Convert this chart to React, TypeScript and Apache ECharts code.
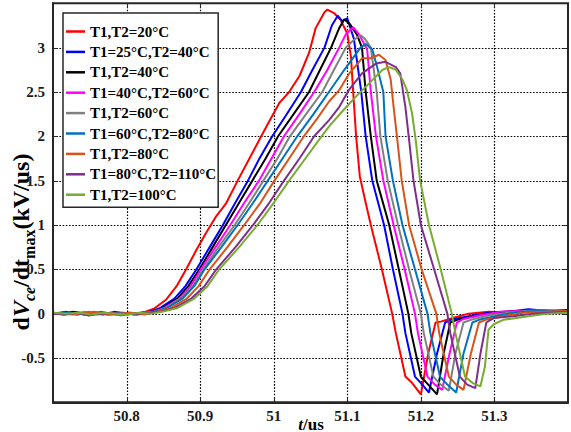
import React, { useEffect, useRef } from 'react';
import * as echarts from 'echarts';

const seriesNames = [
  'T1,T2=20°C',
  'T1=25°C,T2=40°C',
  'T1,T2=40°C',
  'T1=40°C,T2=60°C',
  'T1,T2=60°C',
  'T1=60°C,T2=80°C',
  'T1,T2=80°C',
  'T1=80°C,T2=110°C',
  'T1,T2=100°C',
];

const seriesColors = ['#ff0000', '#0000ff', '#000000', '#ff00ff', '#808080', '#0072bd', '#d95319', '#7e2f8e', '#77ac30'];

const xTicks = { min: 50.7, max: 51.4, step: 0.1 };
const yTicks = { min: -1, max: 3.5, step: 0.5 };
const xGridValues = [50.8, 50.9, 51.0, 51.1, 51.2, 51.3];
const yGridValues = [-0.5, 0, 0.5, 1, 1.5, 2, 2.5, 3];

const red = [
  [50.700, 0.01], [50.715, -0.01], [50.730, 0.02], [50.745, 0.00], [50.760, 0.01], [50.775, -0.01], [50.790, 0.01],
  [50.805, 0.00], [50.815, -0.01], [50.825, 0.02], [50.838, 0.06], [50.854, 0.16], [50.868, 0.31], [50.881, 0.50],
  [50.895, 0.72], [50.908, 0.91], [50.922, 1.10], [50.935, 1.24], [50.951, 1.50], [50.967, 1.75], [50.983, 2.00],
  [50.994, 2.17], [51.008, 2.38], [51.021, 2.50], [51.035, 2.68], [51.048, 2.94], [51.057, 3.22], [51.069, 3.40],
  [51.073, 3.43], [51.082, 3.39], [51.091, 3.31], [51.100, 3.16], [51.105, 2.90], [51.108, 2.50], [51.112, 2.00],
  [51.117, 1.55], [51.125, 1.25], [51.132, 1.00], [51.147, 0.50], [51.161, 0.00], [51.166, -0.22], [51.179, -0.71],
  [51.188, -0.78], [51.200, -0.91], [51.210, -0.45], [51.220, -0.10], [51.227, -0.09], [51.247, -0.04], [51.265, 0.00],
  [51.292, 0.02], [51.319, 0.01], [51.346, 0.04], [51.373, 0.02], [51.400, 0.04],
];

const blue = [
  [50.700, 0.00], [50.718, 0.02], [50.733, -0.01], [50.750, 0.01], [50.768, -0.01], [50.783, 0.02], [50.800, 0.00],
  [50.818, 0.01], [50.831, 0.02], [50.845, 0.06], [50.865, 0.17], [50.880, 0.31], [50.895, 0.50], [50.913, 0.75],
  [50.931, 1.00], [50.947, 1.24], [50.965, 1.50], [50.980, 1.74], [50.998, 2.00], [51.017, 2.24], [51.037, 2.50],
  [51.052, 2.74], [51.069, 3.00], [51.079, 3.25], [51.087, 3.36], [51.093, 3.30], [51.100, 3.33], [51.109, 3.10],
  [51.119, 2.50], [51.125, 2.00], [51.134, 1.50], [51.150, 1.00], [51.162, 0.50], [51.175, 0.00], [51.179, -0.22],
  [51.192, -0.71], [51.202, -0.80], [51.211, -0.89], [51.222, -0.45], [51.233, -0.10], [51.241, -0.07], [51.265, -0.03],
  [51.292, 0.01], [51.319, 0.02], [51.346, 0.05], [51.373, 0.03], [51.400, 0.04],
];

const black = [
  [50.700, 0.01], [50.712, 0.00], [50.728, 0.02], [50.742, -0.01], [50.758, 0.01], [50.772, 0.00], [50.788, -0.01],
  [50.803, 0.01], [50.820, 0.00], [50.834, 0.02], [50.848, 0.06], [50.869, 0.17], [50.884, 0.31], [50.899, 0.50],
  [50.917, 0.75], [50.935, 1.00], [50.953, 1.25], [50.971, 1.50], [50.989, 1.75], [51.006, 2.00], [51.027, 2.25],
  [51.048, 2.50], [51.063, 2.75], [51.078, 3.00], [51.089, 3.22], [51.096, 3.32], [51.104, 3.26], [51.113, 3.15],
  [51.120, 3.00], [51.125, 2.50], [51.132, 2.00], [51.140, 1.50], [51.157, 1.00], [51.170, 0.50], [51.183, 0.00],
  [51.187, -0.22], [51.200, -0.71], [51.210, -0.80], [51.222, -0.91], [51.231, -0.45], [51.240, -0.10], [51.249, -0.07],
  [51.272, -0.03], [51.299, 0.01], [51.326, 0.03], [51.353, 0.02], [51.400, 0.03],
];

const magenta = [
  [50.700, 0.00], [50.716, 0.01], [50.731, -0.01], [50.748, 0.02], [50.763, 0.00], [50.779, -0.01], [50.794, 0.01],
  [50.810, -0.01], [50.824, 0.01], [50.836, 0.02], [50.850, 0.06], [50.872, 0.17], [50.887, 0.31], [50.901, 0.50],
  [50.921, 0.75], [50.941, 1.00], [50.960, 1.25], [50.980, 1.50], [50.997, 1.75], [51.014, 2.00], [51.035, 2.25],
  [51.055, 2.50], [51.073, 2.75], [51.089, 3.00], [51.098, 3.15], [51.108, 3.23], [51.116, 3.15], [51.127, 2.98],
  [51.132, 2.50], [51.139, 2.00], [51.149, 1.50], [51.163, 1.00], [51.178, 0.50], [51.192, 0.00], [51.196, -0.22],
  [51.209, -0.71], [51.219, -0.80], [51.229, -0.86], [51.239, -0.45], [51.249, -0.10], [51.258, -0.06], [51.279, -0.02],
  [51.306, 0.02], [51.333, 0.03], [51.367, 0.04], [51.400, 0.03],
];

const gray = [
  [50.700, 0.01], [50.714, -0.01], [50.729, 0.00], [50.744, 0.02], [50.761, -0.01], [50.777, 0.01], [50.792, -0.02],
  [50.808, 0.00], [50.823, 0.01], [50.837, 0.02], [50.852, 0.06], [50.873, 0.17], [50.890, 0.31], [50.904, 0.50],
  [50.925, 0.75], [50.947, 1.00], [50.967, 1.25], [50.986, 1.50], [51.005, 1.75], [51.022, 2.00], [51.044, 2.25],
  [51.066, 2.50], [51.082, 2.75], [51.098, 3.00], [51.108, 3.08], [51.118, 3.14], [51.124, 3.10], [51.132, 3.00],
  [51.140, 2.50], [51.145, 2.00], [51.155, 1.50], [51.169, 1.00], [51.184, 0.50], [51.200, 0.00], [51.204, -0.22],
  [51.217, -0.71], [51.227, -0.80], [51.238, -0.87], [51.247, -0.45], [51.258, -0.10], [51.268, -0.07], [51.292, -0.02],
  [51.319, 0.01], [51.346, 0.03], [51.373, 0.02], [51.400, 0.02],
];

const lightBlue = [
  [50.700, 0.00], [50.717, 0.01], [50.732, 0.00], [50.747, -0.01], [50.764, 0.02], [50.780, 0.00], [50.796, 0.01],
  [50.811, -0.01], [50.826, 0.00], [50.838, 0.02], [50.854, 0.06], [50.876, 0.17], [50.892, 0.31], [50.906, 0.50],
  [50.929, 0.75], [50.951, 1.00], [50.972, 1.25], [50.992, 1.50], [51.012, 1.75], [51.032, 2.00], [51.054, 2.25],
  [51.075, 2.50], [51.096, 2.75], [51.118, 3.00], [51.125, 3.04], [51.134, 2.98], [51.140, 2.80], [51.149, 2.50],
  [51.152, 2.00], [51.162, 1.50], [51.175, 1.00], [51.192, 0.50], [51.209, 0.00], [51.213, -0.22], [51.226, -0.71],
  [51.236, -0.80], [51.248, -0.89], [51.258, -0.45], [51.270, -0.10], [51.279, -0.07], [51.306, -0.02], [51.333, 0.02],
  [51.367, 0.03], [51.400, 0.02],
];

const orange = [
  [50.700, 0.01], [50.713, 0.00], [50.727, -0.01], [50.743, 0.01], [50.757, 0.02], [50.774, -0.01], [50.789, 0.00],
  [50.806, 0.01], [50.825, -0.01], [50.841, 0.02], [50.859, 0.06], [50.882, 0.17], [50.898, 0.31], [50.913, 0.50],
  [50.937, 0.75], [50.960, 1.00], [50.982, 1.25], [51.001, 1.50], [51.021, 1.75], [51.041, 2.00], [51.059, 2.20],
  [51.075, 2.39], [51.089, 2.52], [51.102, 2.70], [51.120, 2.88], [51.132, 2.88], [51.143, 2.92], [51.152, 2.86],
  [51.159, 2.64], [51.163, 2.33], [51.168, 1.96], [51.174, 1.50], [51.184, 1.00], [51.201, 0.50], [51.221, 0.00],
  [51.225, -0.22], [51.238, -0.71], [51.248, -0.80], [51.258, -0.86], [51.268, -0.45], [51.279, -0.10], [51.288, -0.07],
  [51.312, -0.03], [51.340, 0.01], [51.367, 0.02], [51.400, 0.03],
];

const purple = [
  [50.700, 0.00], [50.716, -0.01], [50.734, 0.01], [50.749, -0.02], [50.766, 0.00], [50.781, 0.01], [50.797, -0.01],
  [50.813, 0.00], [50.829, 0.01], [50.845, 0.02], [50.864, 0.06], [50.888, 0.17], [50.906, 0.31], [50.922, 0.50],
  [50.948, 0.75], [50.972, 1.00], [50.994, 1.25], [51.014, 1.50], [51.035, 1.75], [51.055, 2.00], [51.075, 2.18],
  [51.089, 2.33], [51.102, 2.52], [51.120, 2.71], [51.139, 2.82], [51.152, 2.84], [51.166, 2.78], [51.172, 2.71],
  [51.179, 2.33], [51.184, 1.96], [51.190, 1.50], [51.200, 1.00], [51.218, 0.50], [51.236, 0.00], [51.240, -0.22],
  [51.253, -0.71], [51.263, -0.80], [51.274, -0.84], [51.281, -0.45], [51.289, -0.10], [51.299, -0.05], [51.326, -0.03],
  [51.353, 0.00], [51.400, 0.02],
];

const green = [
  [50.700, 0.01], [50.719, 0.00], [50.735, 0.01], [50.752, -0.01], [50.769, 0.01], [50.786, 0.00], [50.801, -0.01],
  [50.817, 0.01], [50.833, 0.00], [50.848, 0.02], [50.868, 0.06], [50.892, 0.17], [50.910, 0.31], [50.926, 0.50],
  [50.953, 0.75], [50.978, 1.00], [51.000, 1.25], [51.021, 1.50], [51.043, 1.75], [51.065, 2.00], [51.075, 2.11],
  [51.093, 2.28], [51.112, 2.45], [51.130, 2.60], [51.148, 2.75], [51.157, 2.78], [51.166, 2.75], [51.175, 2.64],
  [51.181, 2.52], [51.188, 2.26], [51.193, 1.96], [51.199, 1.50], [51.211, 1.00], [51.227, 0.50], [51.242, 0.00],
  [51.247, -0.22], [51.260, -0.71], [51.270, -0.78], [51.281, -0.82], [51.287, -0.60], [51.292, -0.18], [51.299, -0.12],
  [51.312, -0.07], [51.346, -0.03], [51.373, 0.00], [51.400, 0.01],
];

const seriesData = [red, blue, black, magenta, gray, lightBlue, orange, purple, green];

const FONT = "'Liberation Serif', 'Times New Roman', serif";
const INK = '#1a1a1a';
const FRAME = '#262626';

export default function App() {
  const ref = useRef<HTMLDivElement>(null);

  useEffect(() => {
    if (!ref.current) return;
    const chart = echarts.init(ref.current, null, { renderer: 'svg' });

    const labelStyle = { color: INK, fontFamily: FONT, fontWeight: 'bold' as const, fontSize: 15 };
    const xFmt = (v: number) => (v < xTicks.min + 0.01 || v > xTicks.max - 0.01 ? '' : String(Math.round(v * 10) / 10));
    const yFmt = (v: number) => (v < yTicks.min + 0.01 || v > yTicks.max - 0.01 ? '' : String(Math.round(v * 10) / 10));
    const gridStyle = { stroke: '#000000', lineWidth: 1.2, lineDash: [1.6, 1.6], fill: 'none' };
    const tickStyle = { stroke: FRAME, lineWidth: 1, fill: 'none' };

    const verticalGrid = {
      name: 'verticalGrid',
      type: 'custom',
      silent: true,
      z: 1,
      data: xGridValues.map((v) => [v, 0]),
      encode: { x: 0, y: 1 },
      renderItem: (_params: any, api: any) => {
        const x = api.value(0);
        const top = api.coord([x, yTicks.max]);
        const bottom = api.coord([x, yTicks.min]);
        const px = Math.round(top[0]) + 0.5;
        return {
          type: 'group',
          children: [
            { type: 'line', shape: { x1: px, y1: top[1], x2: px, y2: bottom[1] }, style: gridStyle },
            { type: 'line', shape: { x1: px, y1: bottom[1], x2: px, y2: bottom[1] - 5 }, style: tickStyle },
            { type: 'line', shape: { x1: px, y1: top[1], x2: px, y2: top[1] + 5 }, style: tickStyle },
          ],
        };
      },
    };

    const horizontalGrid = {
      name: 'horizontalGrid',
      type: 'custom',
      silent: true,
      z: 1,
      data: yGridValues.map((v) => [xTicks.min, v]),
      encode: { x: 0, y: 1 },
      renderItem: (_params: any, api: any) => {
        const y = api.value(1);
        const left = api.coord([xTicks.min, y]);
        const right = api.coord([xTicks.max, y]);
        const py = Math.round(left[1]) + 0.5;
        return {
          type: 'group',
          children: [
            { type: 'line', shape: { x1: left[0], y1: py, x2: right[0], y2: py }, style: gridStyle },
            { type: 'line', shape: { x1: left[0], y1: py, x2: left[0] + 5, y2: py }, style: tickStyle },
            { type: 'line', shape: { x1: right[0], y1: py, x2: right[0] - 5, y2: py }, style: tickStyle },
          ],
        };
      },
    };

    const frameSeries = {
      name: 'frame',
      type: 'custom',
      silent: true,
      z: 5,
      data: [[xTicks.min, yTicks.min]],
      encode: { x: 0, y: 1 },
      renderItem: (_params: any, api: any) => {
        const a = api.coord([xTicks.min, yTicks.max]);
        const b = api.coord([xTicks.max, yTicks.min]);
        return {
          type: 'rect',
          shape: { x: a[0], y: a[1], width: b[0] - a[0], height: b[1] - a[1] },
          style: { fill: 'none', stroke: FRAME, lineWidth: 2 },
        };
      },
    };

    const option: any = {
      animation: false,
      grid: { left: 53, right: 1.5, top: 3.3, bottom: 29.7 },
      xAxis: {
        type: 'value', min: xTicks.min, max: xTicks.max, interval: xTicks.step,
        axisLine: { show: true, onZero: false, lineStyle: { color: FRAME, width: 2 } },
        axisTick: { show: false },
        axisLabel: { ...labelStyle, margin: 6, formatter: xFmt },
        splitLine: { show: false },
      },
      yAxis: {
        type: 'value', min: yTicks.min, max: yTicks.max, interval: yTicks.step,
        axisLine: { show: true, onZero: false, lineStyle: { color: FRAME, width: 2 } },
        axisTick: { show: false },
        axisLabel: { ...labelStyle, margin: 8, formatter: yFmt },
        splitLine: { show: false },
      },
      legend: {
        left: 63, top: 13, orient: 'vertical',
        backgroundColor: '#ffffff', borderColor: FRAME, borderWidth: 1.5,
        padding: [11, 2, 5, 3], itemGap: 5.4, itemWidth: 19, itemHeight: 2.5, icon: 'rect',
        textStyle: { fontFamily: FONT, fontWeight: 'bold', fontSize: 15, color: '#000', lineHeight: 15 },
        data: seriesNames,
        z: 10,
      },
      graphic: [
        {
          type: 'text', x: 21, y: 242, rotation: Math.PI / 2,
          style: {
            text: '{n|d}{i|V}{si|ce}{n|/dt}{s|max}{n|(kV/us)}',
            align: 'center', verticalAlign: 'middle',
            rich: {
              n: { fontFamily: FONT, fontWeight: 'bold', fontSize: 24, lineHeight: 32, color: INK },
              i: { fontFamily: FONT, fontWeight: 'bold', fontStyle: 'italic', fontSize: 24, lineHeight: 32, color: INK },
              si: { fontFamily: FONT, fontWeight: 'bold', fontStyle: 'italic', fontSize: 16, lineHeight: 32, verticalAlign: 'bottom', color: INK },
              s: { fontFamily: FONT, fontWeight: 'bold', fontSize: 16, lineHeight: 32, verticalAlign: 'bottom', color: INK },
            },
          },
        },
        {
          type: 'text', x: 311, y: 424,
          style: {
            text: '{i|t}{n|/us}',
            align: 'center', verticalAlign: 'middle',
            rich: {
              i: { fontFamily: FONT, fontWeight: 'bold', fontStyle: 'italic', fontSize: 17, color: INK },
              n: { fontFamily: FONT, fontWeight: 'bold', fontSize: 17, color: INK },
            },
          },
        },
      ],
      series: [
        verticalGrid,
        horizontalGrid,
        ...seriesNames.map((name, i) => ({
          name,
          type: 'line',
          data: seriesData[i],
          showSymbol: false,
          symbol: 'none',
          smooth: false,
          lineStyle: { color: seriesColors[i], width: 2 },
          itemStyle: { color: seriesColors[i] },
          z: 3,
        })),
        frameSeries,
      ],
    };

    chart.setOption(option);
    return () => chart.dispose();
  }, []);

  return (
    <div
      ref={ref}
      style={{ position: 'fixed', left: 0, top: 0, width: 571, height: 432, background: '#fff' }}
    />
  );
}
